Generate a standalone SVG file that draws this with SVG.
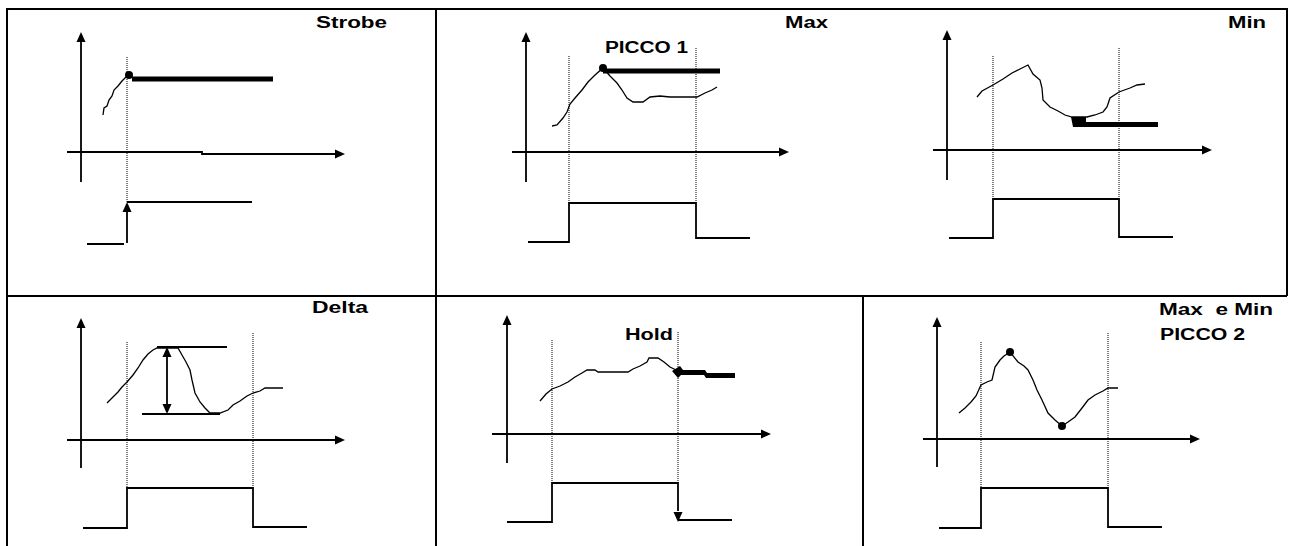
<svg xmlns="http://www.w3.org/2000/svg" width="1289" height="546" viewBox="0 0 1289 546">
<style>
.frame{fill:none;stroke:#000;stroke-width:2}
.ax{fill:none;stroke:#000;stroke-width:1.8}
.sig{fill:none;stroke:#000;stroke-width:1.8}
.cv{fill:none;stroke:#000;stroke-width:1.3;stroke-linejoin:miter}
.dot{fill:none;stroke:#000;stroke-width:1;stroke-dasharray:1 1}
.thk{fill:none;stroke:#000;stroke-width:5}
.ah{fill:#000}
.pt{fill:#000}
.lbl{font-family:"Liberation Sans",Arial,sans-serif;font-weight:bold;font-size:16px;fill:#000}
</style>
<rect width="1289" height="546" fill="#fff"/>
<g id="frame">
<path class="frame" d="M7,546 V9 H1287 V296 M7,296 H1287 M436,9 V546 M863,296 V546"/>
</g>

<g id="panel-strobe">
<text class="lbl" x="316" y="28" textLength="71" lengthAdjust="spacingAndGlyphs">Strobe</text>
<path class="ax" d="M81,40 V182 M67,152 H202 V154 H336"/>
<polygon class="ah" points="81,32 76.5,42 85.5,42"/>
<polygon class="ah" points="345,154 335,149.5 335,158.5"/>
<path class="dot" d="M127,57 V202"/>
<polyline class="cv" points="103,115 104,108 107,106 109,100 112,96 114,90 118,86 122,81 128,75"/>
<circle class="pt" cx="129" cy="75" r="4"/>
<path class="thk" d="M132,79 H273"/>
<path class="sig" d="M127,202 H252 M127,210 V243 M87,244 H124"/>
<polygon class="ah" points="127,202 122.5,212 131.5,212"/>
</g>

<g id="panel-max">
<text class="lbl" x="785" y="28" textLength="43" lengthAdjust="spacingAndGlyphs">Max</text>
<text class="lbl" x="605" y="53" textLength="83" lengthAdjust="spacingAndGlyphs">PICCO 1</text>
<path class="ax" d="M526,40 V182 M512,152 H780"/>
<polygon class="ah" points="526,32 521.5,42 530.5,42"/>
<polygon class="ah" points="789,152 779,147.5 779,156.5"/>
<path class="dot" d="M569,56 V203 M696,48 V203"/>
<polyline class="cv" points="552,126 557,125 563,118 567,112 570,104 575,98 582,90 588,82 595,75 603,68 610,76 617,83 622,90 627,98 633,102 643,102 650,97 660,96 670,97 697,97 705,93 712,90 717,87"/>
<circle class="pt" cx="603" cy="68" r="4"/>
<path class="thk" d="M603,71 H720"/>
<path class="sig" d="M528,242 H569 V203 H696 V238 H750"/>
</g>

<g id="panel-min">
<text class="lbl" x="1228" y="28" textLength="38" lengthAdjust="spacingAndGlyphs">Min</text>
<path class="ax" d="M947,38 V180 M933,150 H1203"/>
<polygon class="ah" points="947,30 942.5,40 951.5,40"/>
<polygon class="ah" points="1212,150 1202,145.5 1202,154.5"/>
<path class="dot" d="M993,56 V200 M1119,48 V200"/>
<polyline class="cv" points="977,97 982,91 993,85 1003,79 1012,73 1020,69 1028,65 1033,74 1040,80 1042,88 1043,100 1050,107 1058,111 1065,115 1072,117 1087,117 1095,115 1103,112 1107,107 1110,98 1119,92 1130,88 1137,85 1145,84"/>
<polygon class="ah" points="1071,117 1086,117 1086,122 1158,122 1158,127 1073,127"/>
<path class="sig" d="M949,238 H993 V199 H1119 V237 H1173"/>
</g>

<g id="panel-delta">
<text class="lbl" x="312" y="313" textLength="56" lengthAdjust="spacingAndGlyphs">Delta</text>
<path class="ax" d="M81,326 V468 M67,440 H336"/>
<polygon class="ah" points="81,318 76.5,328 85.5,328"/>
<polygon class="ah" points="345,440 335,435.5 335,444.5"/>
<path class="dot" d="M127,342 V488 M253,333 V488"/>
<path class="sig" d="M157,347 H227 M142,414 H220 M167,354 V407"/>
<polygon class="ah" points="167,347 162.5,357 171.5,357"/>
<polygon class="ah" points="167,414 162.5,404 171.5,404"/>
<polyline class="cv" points="107,403 112,398 118,392 122,387 127,382 133,375 138,368 143,360 148,354 153,350 157,348 178,348 182,355 186,362 190,370 192,380 195,393 200,402 205,408 210,413 220,413 228,410 233,405 240,401 247,396 253,393 260,391 265,388 283,388"/>
<path class="sig" d="M83,528 H127 V488 H253 V527 H307"/>
</g>

<g id="panel-hold">
<text class="lbl" x="625" y="340" textLength="48" lengthAdjust="spacingAndGlyphs">Hold</text>
<path class="ax" d="M507,323 V463 M492,434 H762"/>
<polygon class="ah" points="507,315 502.5,325 511.5,325"/>
<polygon class="ah" points="771,434 761,429.5 761,438.5"/>
<path class="dot" d="M552,340 V483 M678,332 V483"/>
<polyline class="cv" points="540,401 546,394 552,389 560,386 568,382 575,377 582,373 587,370 595,370 598,372 628,372 633,369 640,366 647,362 649,358 658,358 664,362 670,367 678,371"/>
<polygon class="ah" points="672,371 680,366 683,370 705,370 707,373 735,373 735,378 706,378 704,375 681,375 678,378"/>
<path class="sig" d="M507,522 H552 V483 H678 V511 M678,520 H732"/>
<polygon class="ah" points="678,522 673.5,512 682.5,512"/>
</g>

<g id="panel-maxmin">
<text class="lbl" x="1159" y="315" textLength="114" lengthAdjust="spacingAndGlyphs" xml:space="preserve">Max  e Min</text>
<text class="lbl" x="1160" y="340" textLength="85" lengthAdjust="spacingAndGlyphs">PICCO 2</text>
<path class="ax" d="M937,325 V467 M923,439 H1191"/>
<polygon class="ah" points="937,317 932.5,327 941.5,327"/>
<polygon class="ah" points="1200,439 1190,434.5 1190,443.5"/>
<path class="dot" d="M981,342 V488 M1108,333 V488"/>
<polyline class="cv" points="959,413 965,408 971,402 976,396 981,385 987,382 992,380 995,367 1000,360 1004,356 1010,352 1018,362 1024,366 1028,370 1033,380 1037,390 1042,400 1048,413 1055,420 1062,426 1068,422 1075,417 1082,408 1088,400 1095,395 1103,391 1108,388 1118,388"/>
<circle class="pt" cx="1010" cy="352" r="4"/>
<circle class="pt" cx="1062" cy="426" r="4"/>
<path class="sig" d="M939,528 H981 V488 H1108 V527 H1162"/>
</g>
</svg>
